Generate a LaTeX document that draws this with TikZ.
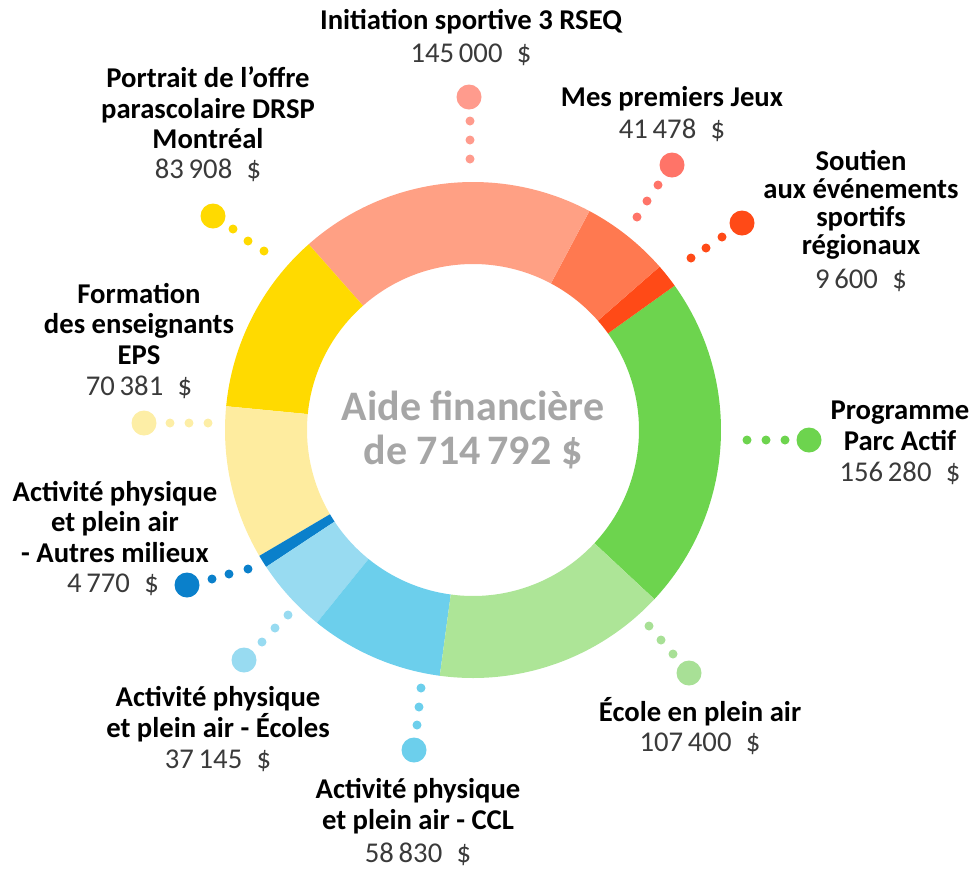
\documentclass[tikz,border=0pt]{standalone}
\usepackage{fontspec}
\setmainfont{Carlito}
\definecolor{initseg}{HTML}{FFA084}
\definecolor{initdot}{HTML}{FF9B8D}
\definecolor{messeg}{HTML}{FF7950}
\definecolor{mesdot}{HTML}{FF7468}
\definecolor{soutseg}{HTML}{FF4A17}
\definecolor{parcseg}{HTML}{6DD44E}
\definecolor{ecoleseg}{HTML}{ADE597}
\definecolor{ecoledot}{HTML}{A8E096}
\definecolor{cclseg}{HTML}{6CCFEC}
\definecolor{ecolesseg}{HTML}{98DBF1}
\definecolor{autresseg}{HTML}{0A80CB}
\definecolor{formseg}{HTML}{FEEC9F}
\definecolor{formdot}{HTML}{FDEEA6}
\definecolor{portseg}{HTML}{FFDA00}
\definecolor{totalgray}{HTML}{A6A6A6}
\definecolor{amountgray}{HTML}{3A3A3A}

\begin{document}
\begin{tikzpicture}
    [x=0.75pt, y=0.75pt,
    title/.style={font=\fontsize{21.5}{23}\selectfont\bfseries, align=center, text=black, inner sep=0pt},
    amount/.style={font=\fontsize{21.5}{23}\selectfont, text=amountgray, inner sep=0pt},
    bigdot/.style={circle, minimum size=18.75pt, inner sep=0pt},
    smalldot/.style={circle, minimum size=6.75pt, inner sep=0pt}
    ]
    \useasboundingbox (0,0) rectangle (974,-869);

    % donut
    \coordinate (centre) at (473,-430);
    \foreach \a/\b/\c in {-43/35.6/parcseg, 35.6/41.2/soutseg, 41.2/62/messeg,
        62/131.5/initseg, 131.5/174.5/portseg, 174.5/210.5/formseg,
        210.5/213.5/autresseg, 213.5/231/ecolesseg, 231/262.3/cclseg, 262.3/317/ecoleseg}
        \fill[\c] ([shift={(\a:248)}]centre) arc[start angle=\a, end angle=\b, radius=248]
            -- ([shift={(\b:166)}]centre) arc[start angle=\b, end angle=\a, radius=166] -- cycle;
    \node (total) at (473,-430) [font=\fontsize{31.5}{33}\selectfont\bfseries, text=totalgray, align=center]
        {Aide financière\\de 714\,792 \$};

    % Initiation sportive
    \node[bigdot, fill=initdot] (initBig) at (469,-97) {};
    \node[smalldot, fill=initdot] (init1) at (470,-121) {};
    \node[smalldot, fill=initdot] (init2) at (470,-140) {};
    \node[smalldot, fill=initdot] (init3) at (470,-159) {};
    \node[title] (initTitle) at (471,-22) {Initiation sportive 3 RSEQ};
    \node[amount] (initAmount) at (471,-55) {145\,000\hspace{0.5em}\$};

    % Mes premiers Jeux
    \node[bigdot, fill=mesdot] (mesBig) at (672,-165) {};
    \node[smalldot, fill=mesdot] (mes1) at (658,-185) {};
    \node[smalldot, fill=mesdot] (mes2) at (647,-201) {};
    \node[smalldot, fill=mesdot] (mes3) at (637,-217) {};
    \node[title] (mesTitle) at (672,-99) {Mes premiers Jeux};
    \node[amount] (mesAmount) at (672,-130) {41\,478\hspace{0.5em}\$};

    % Soutien
    \node[bigdot, fill=soutseg] (soutBig) at (742,-223) {};
    \node[smalldot, fill=soutseg] (sout1) at (722,-237) {};
    \node[smalldot, fill=soutseg] (sout2) at (706,-248) {};
    \node[smalldot, fill=soutseg] (sout3) at (691,-258) {};
    \node[title, font=\fontsize{21.5}{21}\selectfont\bfseries] (soutTitle) at (861,-205)
        {Soutien\\aux événements\\sportifs\\régionaux};
    \node[amount] (soutAmount) at (861,-280) {9\,600\hspace{0.5em}\$};

    % Parc Actif
    \node[bigdot, fill=parcseg] (parcBig) at (809,-440) {};
    \node[smalldot, fill=parcseg] (parc1) at (785,-440) {};
    \node[smalldot, fill=parcseg] (parc2) at (766,-440) {};
    \node[smalldot, fill=parcseg] (parc3) at (747,-440) {};
    \node[title] (parcTitle) at (900,-426) {Programme\\Parc Actif};
    \node[amount] (parcAmount) at (900,-473) {156\,280\hspace{0.5em}\$};

    % Ecole en plein air
    \node[bigdot, fill=ecoledot] (ecoleBig) at (689,-673) {};
    \node[smalldot, fill=ecoledot] (ecole1) at (673,-654) {};
    \node[smalldot, fill=ecoledot] (ecole2) at (661,-640) {};
    \node[smalldot, fill=ecoledot] (ecole3) at (649,-626) {};
    \node[title] (ecoleTitle) at (700,-712) {École en plein air};
    \node[amount] (ecoleAmount) at (700,-744) {107\,400\hspace{0.5em}\$};

    % CCL
    \node[bigdot, fill=cclseg] (cclBig) at (414,-750) {};
    \node[smalldot, fill=cclseg] (ccl1) at (417,-725) {};
    \node[smalldot, fill=cclseg] (ccl2) at (419,-707) {};
    \node[smalldot, fill=cclseg] (ccl3) at (421,-688) {};
    \node[title] (cclTitle) at (418,-806) {Activité physique\\et plein air - CCL};
    \node[amount] (cclAmount) at (418,-854) {58\,830\hspace{0.5em}\$};

    % Ecoles
    \node[bigdot, fill=ecolesseg] (ecolesBig) at (244,-660) {};
    \node[smalldot, fill=ecolesseg] (ecoles1) at (262,-642) {};
    \node[smalldot, fill=ecolesseg] (ecoles2) at (275,-628) {};
    \node[smalldot, fill=ecolesseg] (ecoles3) at (288,-615) {};
    \node[title] (ecolesTitle) at (218,-714) {Activité physique\\et plein air - Écoles};
    \node[amount] (ecolesAmount) at (218,-761) {37\,145\hspace{0.5em}\$};

    % Autres milieux
    \node[bigdot, fill=autresseg] (autresBig) at (187,-585) {};
    \node[smalldot, fill=autresseg] (autres1) at (212,-579) {};
    \node[smalldot, fill=autresseg] (autres2) at (229,-574) {};
    \node[smalldot, fill=autresseg] (autres3) at (248,-569) {};
    \node[title] (autresTitle) at (115,-522) {Activité physique\\et plein air\\- Autres milieux};
    \node[amount] (autresAmount) at (113,-585) {4\,770\hspace{0.5em}\$};

    % Formation
    \node[bigdot, fill=formdot] (formBig) at (144,-423) {};
    \node[smalldot, fill=formdot] (form1) at (170,-423) {};
    \node[smalldot, fill=formdot] (form2) at (189,-423) {};
    \node[smalldot, fill=formdot] (form3) at (208,-423) {};
    \node[title] (formTitle) at (139,-324) {Formation\\des enseignants\\EPS};
    \node[amount] (formAmount) at (139,-387) {70\,381\hspace{0.5em}\$};

    % Portrait
    \node[bigdot, fill=portseg] (portBig) at (213,-216) {};
    \node[smalldot, fill=portseg] (port1) at (233,-229) {};
    \node[smalldot, fill=portseg] (port2) at (248,-241) {};
    \node[smalldot, fill=portseg] (port3) at (264,-251) {};
    \node[title] (portTitle) at (208,-108) {Portrait de l’offre\\parascolaire DRSP\\Montréal};
    \node[amount] (portAmount) at (208,-170) {83\,908\hspace{0.5em}\$};
\end{tikzpicture}
\end{document}
